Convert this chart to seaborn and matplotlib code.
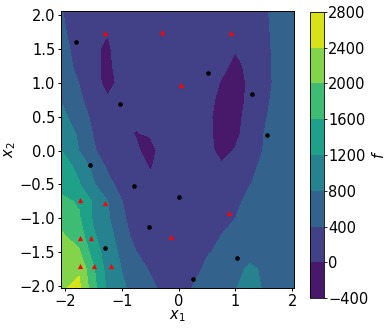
import numpy as np
import matplotlib
matplotlib.use("Agg")
import matplotlib.pyplot as plt
import seaborn as sns

# grid coordinates of the surface
x_grid = [-2.07, -1.75, -1.5, -1.25, -1.0, -0.75, -0.5, -0.25, 0.0, 0.25, 0.5, 0.75, 1.0, 1.25, 1.5, 1.75, 2.03]
y_grid = [-2.03, -1.75, -1.5, -1.25, -1.0, -0.75, -0.5, -0.25, 0.0, 0.25, 0.5, 0.75, 1.0, 1.25, 1.5, 1.75, 2.06]

# surface values f (rows follow y_grid, columns follow x_grid)
f_row_m2_03 = [2360, 2480, 1750, 1125, 850, 694, 530, 250, 200, 420, 560, 680, 790, 880, 780, 650, 600]
f_row_m1_75 = [2200, 2350, 1650, 1050, 790, 620, 350, 230, 200, 280, 470, 610, 730, 840, 770, 660, 600]
f_row_m1_50 = [2150, 2050, 1420, 1000, 720, 410, 250, 200, 180, 200, 370, 470, 600, 720, 730, 650, 600]
f_row_m1_25 = [2060, 1800, 1250, 950, 600, 243, 170, 150, 150, 170, 280, 400, 520, 620, 650, 620, 590]
f_row_m1_00 = [1850, 1640, 1150, 860, 480, 200, 130, 110, 120, 140, 180, 260, 400, 510, 580, 590, 580]
f_row_m0_75 = [1680, 1560, 1150, 810, 410, 180, 80, 80, 100, 110, 120, 160, 330, 480, 560, 580, 570]
f_row_m0_50 = [1490, 1220, 840, 530, 240, 110, 40, 60, 80, 100, 100, 90, 150, 390, 480, 530, 550]
f_row_m0_25 = [1350, 1130, 700, 350, 150, 70, -10, 60, 80, 100, 90, 40, 80, 360, 440, 500, 540]
f_row_p0_00 = [1220, 790, 450, 200, 100, 60, -150, 200, 120, 100, 80, -80, 20, 190, 420, 480, 530]
f_row_p0_25 = [1080, 740, 380, 180, 100, -20, 40, 150, 140, 120, 80, -130, -70, 140, 400, 470, 520]
f_row_p0_50 = [900, 620, 300, 150, 100, 80, 80, 120, 130, 110, 90, -170, -120, 140, 385, 450, 510]
f_row_p0_75 = [790, 480, 200, 40, 100, 100, 110, 130, 140, 120, 120, -100, -130, 70, 370, 440, 500]
f_row_p1_00 = [700, 390, 150, -120, 100, 150, 180, 180, 170, 150, 120, -20, -120, 50, 360, 430, 500]
f_row_p1_25 = [580, 300, 100, -110, 200, 180, 210, 210, 200, 190, 170, 80, -80, 80, 350, 440, 500]
f_row_p1_50 = [460, 340, 60, -60, 180, 220, 240, 240, 230, 220, 200, 180, 20, 150, 360, 440, 500]
f_row_p1_75 = [430, 330, 150, 15, 200, 240, 260, 260, 260, 250, 240, 230, 200, 220, 370, 440, 500]
f_row_p2_06 = [410, 320, 220, 200, 230, 260, 280, 290, 290, 280, 270, 260, 260, 280, 380, 440, 500]

levels = [-400, 0, 400, 800, 1200, 1600, 2000, 2400, 2800]

# sample points
black_x = [-1.80, -1.03, 0.52, 1.29, 1.55, -1.55, -0.78, 0.0, -0.52, -1.29, 1.03, 0.25]
black_y = [1.60, 0.69, 1.14, 0.84, 0.23, -0.22, -0.53, -0.68, -1.13, -1.44, -1.59, -1.89]
red_x = [-1.30, -0.29, 0.93, 0.04, -1.73, -1.30, 0.89, -1.73, -1.54, -0.13, -1.73, -1.48, -1.19]
red_y = [1.73, 1.75, 1.74, 0.96, -0.73, -0.77, -0.92, -1.29, -1.29, -1.28, -1.71, -1.71, -1.71]

Z = np.array([f_row_m2_03, f_row_m1_75, f_row_m1_50, f_row_m1_25, f_row_m1_00,
              f_row_m0_75, f_row_m0_50, f_row_m0_25, f_row_p0_00, f_row_p0_25,
              f_row_p0_50, f_row_p0_75, f_row_p1_00, f_row_p1_25, f_row_p1_50,
              f_row_p1_75, f_row_p2_06], dtype=float)
X, Y = np.meshgrid(x_grid, y_grid)

plt.rcParams['font.size'] = 10.5
fig = plt.figure(figsize=(3.9, 3.29), dpi=100)
ax = fig.add_axes([0.156, 0.1246, 0.598, 0.842])
cax = fig.add_axes([0.795, 0.094, 0.036, 0.870])

cf = ax.contourf(X, Y, Z, levels=levels, cmap='viridis')
sns.scatterplot(x=black_x, y=black_y, color='black', s=11, linewidth=0, ax=ax, zorder=3)
sns.scatterplot(x=red_x, y=red_y, color='red', marker='^', s=14, linewidth=0, ax=ax, zorder=3)

ax.set_xlim(-2.07, 2.03)
ax.set_ylim(-2.03, 2.06)
ax.set_xticks([-2, -1, 0, 1, 2])
ax.set_yticks([-2.0, -1.5, -1.0, -0.5, 0.0, 0.5, 1.0, 1.5, 2.0])
ax.tick_params(length=2.5, pad=1.5, width=0.7)
ax.set_xlabel('$x_1$', labelpad=0)
ax.set_ylabel('$x_2$', labelpad=1)
for s in ax.spines.values():
    s.set_linewidth(0.7)

cb = fig.colorbar(cf, cax=cax)
cb.set_ticks(levels)
cb.ax.tick_params(length=2, pad=1, width=0.6)
cb.outline.set_linewidth(0.6)
cb.set_label('$f$', labelpad=2)

fig.savefig('out.png', dpi=100)
